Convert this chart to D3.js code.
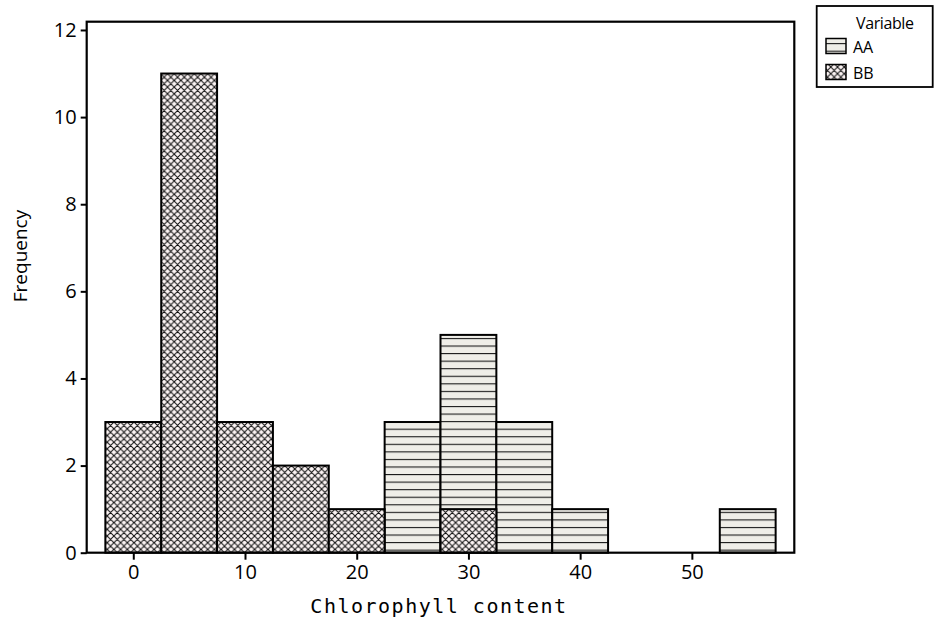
<!DOCTYPE html>
<html><head><meta charset="utf-8">
<script src="https://cdn.jsdelivr.net/npm/d3@7"></script>
<style>body{margin:0;background:#fff}</style>
</head><body>
<script>
const binCenters = [0,5,10,15,20,25,30,35,40,45,50,55];
const seriesNames = ["AA","BB"];
const aaCounts = [0,0,0,0,0,3,5,3,1,0,0,1];
const bbCounts = [3,11,3,2,1,0,1,0,0,0,0,0];
const xTicks = [0,10,20,30,40,50];
const yTicks = [0,2,4,6,8,10,12];
const binWidth = 5;

const W=938,H=624;
const svg=d3.select("body").append("svg").attr("width",W).attr("height",H);
const x=d3.scaleLinear().domain([-4.17,59.17]).range([86.7,794.3]);
const y=d3.scaleLinear().domain([0,12.19]).range([552.7,21.7]);

const defs=svg.append("defs");
const pa=defs.append("pattern").attr("id","hatchA").attr("patternUnits","userSpaceOnUse")
  .attr("width",20).attr("height",7.56).attr("y",5.8-0.5);
pa.append("rect").attr("width",20).attr("height",7.56).attr("fill","#efeee8");
pa.append("line").attr("x1",0).attr("x2",20).attr("y1",0.5).attr("y2",0.5).attr("stroke","#1a1a1a").attr("stroke-width",1.2);
const s=6.7;
const pb=defs.append("pattern").attr("id","hatchB").attr("patternUnits","userSpaceOnUse")
  .attr("width",s).attr("height",s);
pb.append("rect").attr("width",s).attr("height",s).attr("fill","#fcf4f4");
pb.append("path").attr("d",`M0,0L${s},${s}M${s},0L0,${s}M${-s/2},${s/2}L0,${s}M${s/2},${-s/2}L${s},0`)
  .attr("stroke","#111").attr("stroke-width",1.05).attr("fill","none");

const g=svg.append("g");
function drawBars(counts,fill){
  const data=binCenters.map((c,i)=>({c,v:counts[i]})).filter(d=>d.v>0);
  g.selectAll(null).data(data).enter().append("rect")
    .attr("x",d=>x(d.c-binWidth/2)).attr("width",d=>x(d.c+binWidth/2)-x(d.c-binWidth/2))
    .attr("y",d=>y(d.v)).attr("height",d=>y(0)-y(d.v))
    .attr("fill",fill).attr("stroke","#000").attr("stroke-width",2);
}
drawBars(aaCounts,"url(#hatchA)");
drawBars(bbCounts,"url(#hatchB)");

// frame
svg.append("rect").attr("x",x.range()[0]).attr("y",y.range()[1])
  .attr("width",x.range()[1]-x.range()[0]).attr("height",y.range()[0]-y.range()[1])
  .attr("fill","none").attr("stroke","#000").attr("stroke-width",2.2);

const font="'Open Sans', sans-serif";
const xa=svg.append("g").attr("transform",`translate(0,${y(0)})`)
  .call(d3.axisBottom(x).tickValues(xTicks).tickSize(7).tickPadding(5).tickFormat(d3.format("d")));
const ya=svg.append("g").attr("transform",`translate(${x.range()[0]},0)`)
  .call(d3.axisLeft(y).tickValues(yTicks).tickSize(6).tickPadding(4).tickFormat(d3.format("d")));
[xa,ya].forEach(a=>{
  a.select(".domain").remove();
  a.selectAll(".tick line").attr("stroke","#000").attr("stroke-width",2);
  a.selectAll("text").attr("font-family",font).attr("font-size",20).attr("fill","#000");
});

svg.append("text").attr("x",439).attr("y",613).attr("text-anchor","middle")
  .attr("font-family","'DejaVu Sans Mono', monospace").attr("font-size",20)
  .attr("letter-spacing","1.5px").attr("fill","#000").text("Chlorophyll content");
svg.append("text").attr("transform","translate(27,256) rotate(-90)").attr("text-anchor","middle")
  .attr("font-family",font).attr("font-size",19).attr("fill","#000").text("Frequency");

// legend
const lg=svg.append("g");
lg.append("rect").attr("x",816.7).attr("y",6).attr("width",116).attr("height",81)
  .attr("fill","#fff").attr("stroke","#000").attr("stroke-width",1.8);
lg.append("text").attr("x",856).attr("y",29).attr("font-family",font).attr("font-size",16)
  .attr("letter-spacing","-0.4px").attr("fill","#000").text("Variable");
const fills=["url(#hatchA)","url(#hatchB)"];
seriesNames.forEach((n,i)=>{
  const yy=38.5+i*26;
  lg.append("rect").attr("x",826).attr("y",yy).attr("width",20).attr("height",15)
    .attr("fill",fills[i]).attr("stroke","#000").attr("stroke-width",1.5);
  lg.append("text").attr("x",853).attr("y",yy+14).attr("font-family",font).attr("font-size",16)
    .attr("fill","#000").text(n);
});
</script>
</body></html>
